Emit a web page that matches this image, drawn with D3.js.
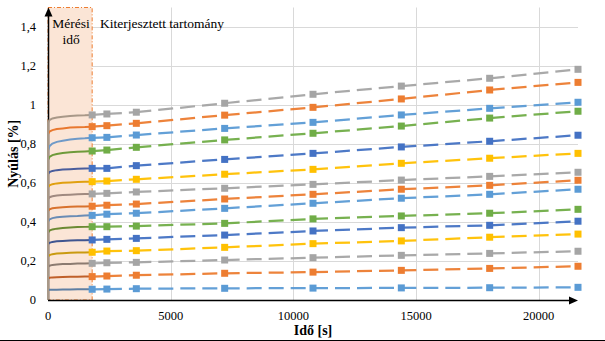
<!DOCTYPE html>
<html><head><meta charset="utf-8">
<script src="https://cdn.jsdelivr.net/npm/d3@7"></script>
<style>html,body{margin:0;padding:0;background:#fff;}svg{display:block;}</style>
</head><body>
<svg id="c" width="605" height="341"></svg>
<script>
// ---- data ----
const measTimes = [0, 0, 60, 180, 360, 600, 900, 1200, 1500, 1800];
const measured = [
  [0, 0.050, 0.052, 0.053, 0.053, 0.054, 0.054, 0.055, 0.055, 0.055],
  [0, 0.110, 0.114, 0.116, 0.117, 0.118, 0.119, 0.119, 0.120, 0.120],
  [0, 0.170, 0.176, 0.180, 0.182, 0.184, 0.185, 0.187, 0.187, 0.188],
  [0, 0.222, 0.230, 0.235, 0.238, 0.240, 0.242, 0.243, 0.244, 0.245],
  [0, 0.285, 0.293, 0.298, 0.301, 0.303, 0.305, 0.306, 0.307, 0.308],
  [0, 0.345, 0.356, 0.362, 0.366, 0.369, 0.372, 0.374, 0.375, 0.376],
  [0, 0.402, 0.413, 0.420, 0.424, 0.427, 0.430, 0.431, 0.433, 0.434],
  [0, 0.456, 0.465, 0.470, 0.473, 0.476, 0.478, 0.479, 0.480, 0.481],
  [0, 0.518, 0.527, 0.532, 0.536, 0.538, 0.540, 0.542, 0.543, 0.544],
  [0, 0.578, 0.588, 0.594, 0.598, 0.601, 0.603, 0.605, 0.606, 0.607],
  [0, 0.646, 0.656, 0.662, 0.666, 0.669, 0.671, 0.673, 0.674, 0.675],
  [0, 0.718, 0.734, 0.743, 0.749, 0.754, 0.758, 0.760, 0.762, 0.764],
  [0, 0.766, 0.789, 0.802, 0.811, 0.817, 0.823, 0.827, 0.829, 0.832],
  [0, 0.850, 0.864, 0.871, 0.877, 0.880, 0.884, 0.886, 0.887, 0.889],
  [0, 0.909, 0.923, 0.931, 0.936, 0.940, 0.943, 0.946, 0.947, 0.949]
];
const extTimes = [1800, 2400, 3600, 7200, 10800, 14400, 18000, 21600];
const extended = [
  [0.055, 0.056, 0.058, 0.060, 0.061, 0.062, 0.063, 0.065],
  [0.120, 0.123, 0.127, 0.137, 0.143, 0.152, 0.162, 0.173],
  [0.188, 0.191, 0.193, 0.205, 0.217, 0.229, 0.239, 0.250],
  [0.245, 0.251, 0.253, 0.270, 0.289, 0.303, 0.322, 0.338],
  [0.308, 0.311, 0.316, 0.333, 0.354, 0.371, 0.383, 0.404],
  [0.376, 0.376, 0.379, 0.393, 0.416, 0.431, 0.445, 0.465],
  [0.434, 0.440, 0.445, 0.470, 0.496, 0.522, 0.542, 0.568],
  [0.481, 0.486, 0.492, 0.518, 0.542, 0.568, 0.588, 0.614],
  [0.544, 0.547, 0.554, 0.573, 0.593, 0.615, 0.634, 0.655],
  [0.607, 0.610, 0.619, 0.645, 0.670, 0.701, 0.727, 0.752],
  [0.675, 0.675, 0.689, 0.721, 0.752, 0.785, 0.814, 0.845],
  [0.764, 0.769, 0.783, 0.821, 0.855, 0.892, 0.933, 0.968],
  [0.832, 0.834, 0.846, 0.880, 0.911, 0.949, 0.983, 1.014],
  [0.889, 0.894, 0.906, 0.948, 0.988, 1.031, 1.077, 1.116],
  [0.949, 0.954, 0.963, 1.009, 1.055, 1.097, 1.137, 1.183]
];
const extColors = ["#5B9BD5", "#ED7D31", "#A5A5A5", "#FFC000", "#4472C4", "#70AD47"];
const measColors = ["#5f7fa3", "#c0602a", "#8c7b70", "#c99a10", "#3f5590", "#6c8a33",
                    "#6a8cb5", "#d8722e", "#a08a80", "#e0a010", "#4a5d9c", "#6e9a3a",
                    "#6f9ac8", "#e8782f", "#a89888"];
const xTicks = [0, 5000, 10000, 15000, 20000];
const yTicks = [0, 0.2, 0.4, 0.6, 0.8, 1.0, 1.2, 1.4];
const measEnd = 1800;
const xTitle = "Idő [s]";
const yTitle = "Nyúlás [%]";
const regionLabel1 = ["Mérési", "idő"];
const regionLabel2 = "Kiterjesztett tartomány";

// ---- drawing ----
const svg = d3.select("#c");
const serif = "Liberation Serif";
const x = d3.scaleLinear().domain([0, 21600]).range([48, 578]);
const y = d3.scaleLinear().domain([0, 1.5]).range([300, 7.5]);

// gridlines
const grid = svg.append("g");
grid.selectAll(".gy").data(yTicks.filter(d => d > 0)).join("line")
  .attr("x1", x(0)).attr("x2", x(21600))
  .attr("y1", d => Math.round(y(d)) + 0.5).attr("y2", d => Math.round(y(d)) + 0.5)
  .attr("stroke", "#d9d9d9").attr("stroke-width", 1);
grid.selectAll(".gx").data(xTicks.filter(d => d > 0)).join("line")
  .attr("y1", y(1.5)).attr("y2", y(0))
  .attr("x1", d => Math.round(x(d)) + 0.5).attr("x2", d => Math.round(x(d)) + 0.5)
  .attr("stroke", "#d9d9d9").attr("stroke-width", 1);

// measurement region
svg.append("rect")
  .attr("x", x(0)).attr("y", y(1.5))
  .attr("width", x(measEnd) - x(0)).attr("height", y(0) - y(1.5))
  .attr("fill", "#fbe5d6")
  .attr("stroke", "#ED7D31").attr("stroke-width", 1)
  .attr("stroke-dasharray", "4,2,1,2");

// y axis line (under series)
svg.append("line").attr("x1", x(0) + 0.5).attr("x2", x(0) + 0.5)
  .attr("y1", y(0)).attr("y2", y(1.5) + 6).attr("stroke", "#000").attr("stroke-width", 1.5);
svg.append("path")
  .attr("d", `M${x(0)+0.5},${y(1.5)} l-4,9 l8,0 z`).attr("fill", "#000");

// measured curves
const line = d3.line().x((d, i) => x(measTimes[i])).y(d => y(d)).curve(d3.curveLinear);
svg.append("g").selectAll("path").data(measured).join("path")
  .attr("d", d => line(d))
  .attr("fill", "none")
  .attr("stroke", (d, i) => measColors[i])
  .attr("stroke-width", 2);

// extended dashed curves (dash pattern restarts per segment)
const eg = svg.append("g");
extended.forEach((vals, si) => {
  const col = extColors[si % 6];
  const g = eg.append("g");
  for (let k = 0; k < vals.length - 1; k++) {
    g.append("line")
      .attr("x1", x(extTimes[k])).attr("y1", y(vals[k]))
      .attr("x2", x(extTimes[k + 1])).attr("y2", y(vals[k + 1]))
      .attr("stroke", col).attr("stroke-width", 2.25)
      .attr("stroke-dasharray", "15,7").attr("opacity", 0.95);
  }
  g.selectAll("rect").data(vals).join("rect")
    .attr("x", (d, i) => x(extTimes[i]) - 3.5)
    .attr("y", d => y(d) - 3.5)
    .attr("width", 7).attr("height", 7)
    .attr("fill", col);
});

// x axis line + arrow
svg.append("line").attr("x1", x(0)).attr("x2", x(21600) - 6)
  .attr("y1", y(0) + 0.5).attr("y2", y(0) + 0.5).attr("stroke", "#000").attr("stroke-width", 1.5);
svg.append("path")
  .attr("d", `M${x(21600)},${y(0)+0.5} l-9,-4 l0,8 z`).attr("fill", "#000");

// tick labels
svg.append("g").selectAll("text").data(yTicks).join("text")
  .attr("x", 36).attr("y", d => y(d)).attr("dy", "0.35em")
  .attr("text-anchor", "end")
  .style("font-family", serif).style("font-size", "12.5px").attr("fill", "#000")
  .text(d => d3.format(".1f")(d).replace(".", ",").replace(/,0$/, ""));
svg.append("g").selectAll("text").data(xTicks).join("text")
  .attr("x", d => x(d)).attr("y", 320)
  .attr("text-anchor", "middle")
  .style("font-family", serif).style("font-size", "12.5px").attr("fill", "#000")
  .text(d => d);

// axis titles
svg.append("text").attr("x", (x(0) + x(21600)) / 2).attr("y", 335)
  .attr("text-anchor", "middle")
  .style("font-family", serif).style("font-size", "14px").style("font-weight", "bold").text(xTitle);
svg.append("text")
  .attr("transform", `translate(18,${(y(0) + y(1.5)) / 2}) rotate(-90)`)
  .attr("text-anchor", "middle")
  .style("font-family", serif).style("font-size", "14px").style("font-weight", "bold").text(yTitle);

// region labels
svg.append("text").attr("x", (x(0) + x(measEnd)) / 2 + 1).attr("y", 28)
  .attr("text-anchor", "middle").style("font-family", serif).style("font-size", "13.5px")
  .text(regionLabel1[0]);
svg.append("text").attr("x", (x(0) + x(measEnd)) / 2 + 1).attr("y", 44)
  .attr("text-anchor", "middle").style("font-family", serif).style("font-size", "13.5px")
  .text(regionLabel1[1]);
svg.append("text").attr("x", 100).attr("y", 28)
  .style("font-family", serif).style("font-size", "13.5px")
  .text(regionLabel2);

// bottom border
svg.append("line").attr("x1", 0).attr("x2", 605).attr("y1", 340.5).attr("y2", 340.5)
  .attr("stroke", "#000").attr("stroke-width", 1);
</script>
</body></html>
